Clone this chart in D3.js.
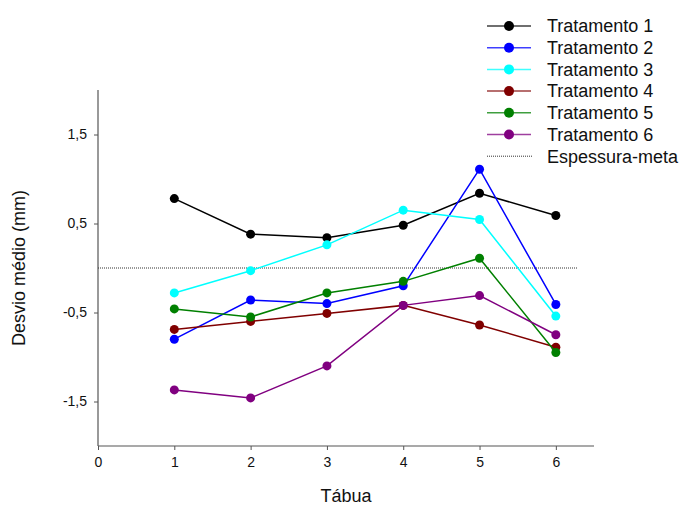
<!DOCTYPE html>
<html>
<head>
<meta charset="utf-8">
<script src="https://cdn.jsdelivr.net/npm/d3@7"></script>
<style>
  html, body { margin: 0; padding: 0; background: #fff; }
  svg { display: block; font-family: "Liberation Sans", Arial, sans-serif; }
</style>
</head>
<body>
<svg id="chart" width="682" height="507"></svg>
<script>
// Tábuas (boards) along the x axis
const tabuas = [1, 2, 3, 4, 5, 6];

// Mean deviation (mm) per treatment
const tratamento1 = [0.78, 0.38, 0.34, 0.48, 0.84, 0.59];
const tratamento2 = [-0.80, -0.36, -0.40, -0.20, 1.11, -0.41];
const tratamento3 = [-0.28, -0.03, 0.26, 0.65, 0.545, -0.54];
const tratamento4 = [-0.69, -0.60, -0.51, -0.42, -0.64, -0.89];
const tratamento5 = [-0.46, -0.55, -0.28, -0.15, 0.11, -0.95];
const tratamento6 = [-1.37, -1.46, -1.10, -0.42, -0.31, -0.75];

const seriesNames = ["Tratamento 1", "Tratamento 2", "Tratamento 3",
                     "Tratamento 4", "Tratamento 5", "Tratamento 6"];
const seriesColors = ["#000000", "#0000ff", "#00ffff", "#800000", "#008000", "#800080"];
const targetName = "Espessura-meta";
const targetValue = 0;

const xTicks = [0, 1, 2, 3, 4, 5, 6];
const yTicks = [1.5, 0.5, -0.5, -1.5];
const yTickLabels = ["1,5", "0,5", "-0,5", "-1,5"];

const seriesValues = [tratamento1, tratamento2, tratamento3, tratamento4, tratamento5, tratamento6];
const series = seriesNames.map((name, i) => ({
  name,
  color: seriesColors[i],
  points: tabuas.map((t, j) => ({ x: t, y: seriesValues[i][j] }))
}));

const svg = d3.select("#chart");
const plot = { left: 98, right: 594, top: 90, bottom: 446 };

const x = d3.scaleLinear().domain([0, 6.5]).range([plot.left, plot.right]);
const y = d3.scaleLinear().domain([-2, 2]).range([plot.bottom, plot.top]);

const axisColor = "#555";
const textColor = "#111";

// X axis
const xAxis = svg.append("g")
  .attr("transform", `translate(0,${plot.bottom})`)
  .call(d3.axisBottom(x).tickValues(xTicks).tickSize(4).tickPadding(7).tickFormat(d3.format("d")));
xAxis.select(".domain").attr("d", `M${plot.left},0H${plot.right}`).attr("stroke", axisColor).attr("stroke-width", 1.2);
xAxis.selectAll(".tick line").attr("stroke", axisColor);
xAxis.selectAll(".tick text").attr("font-size", 14).attr("fill", textColor)
  .attr("font-family", "Liberation Sans, Arial, sans-serif");

// Y axis
const yAxis = svg.append("g")
  .attr("transform", `translate(${plot.left},0)`)
  .call(d3.axisLeft(y).tickValues(yTicks).tickSize(4).tickPadding(7)
    .tickFormat((d, i) => yTickLabels[i]));
yAxis.select(".domain").attr("d", `M0,${plot.top}V${plot.bottom}`).attr("stroke", axisColor).attr("stroke-width", 1.2);
yAxis.selectAll(".tick line").attr("stroke", axisColor);
yAxis.selectAll(".tick text").attr("font-size", 14).attr("fill", textColor)
  .attr("font-family", "Liberation Sans, Arial, sans-serif");

// Axis titles
svg.append("text")
  .attr("x", 346).attr("y", 502)
  .attr("text-anchor", "middle")
  .attr("font-size", 18).attr("fill", textColor)
  .text("Tábua");

svg.append("text")
  .attr("transform", `translate(25,${y(0)}) rotate(-90)`)
  .attr("text-anchor", "middle")
  .attr("font-size", 18).attr("fill", textColor)
  .text("Desvio médio (mm)");

// Target thickness reference line
svg.append("line")
  .attr("x1", plot.left).attr("x2", 578)
  .attr("y1", y(targetValue)).attr("y2", y(targetValue))
  .attr("stroke", "#333").attr("stroke-width", 1)
  .attr("stroke-dasharray", "1,1");

// Series lines and markers
const line = d3.line().x(d => x(d.x)).y(d => y(d.y));

const g = svg.append("g");
series.forEach(s => {
  g.append("path")
    .datum(s.points)
    .attr("d", line)
    .attr("fill", "none")
    .attr("stroke", s.color)
    .attr("stroke-width", 1.5);
  g.selectAll(null)
    .data(s.points)
    .enter().append("circle")
    .attr("cx", d => x(d.x))
    .attr("cy", d => y(d.y))
    .attr("r", 4.5)
    .attr("fill", s.color);
});

// Legend
const legend = svg.append("g");
const legendRowY = i => 26 + i * 21.7;
series.forEach((s, i) => {
  const ly = legendRowY(i);
  legend.append("line")
    .attr("x1", 487).attr("x2", 531).attr("y1", ly).attr("y2", ly)
    .attr("stroke", s.color).attr("stroke-width", 1.5).attr("opacity", 0.75);
  legend.append("circle")
    .attr("cx", 509).attr("cy", ly).attr("r", 5).attr("fill", s.color);
  legend.append("text")
    .attr("x", 547).attr("y", ly).attr("dy", "0.35em")
    .attr("font-size", 18).attr("fill", textColor)
    .text(s.name);
});
const ty = legendRowY(6);
legend.append("line")
  .attr("x1", 487).attr("x2", 533).attr("y1", ty).attr("y2", ty)
  .attr("stroke", "#333").attr("stroke-width", 1).attr("stroke-dasharray", "1,1");
legend.append("text")
  .attr("x", 547).attr("y", ty).attr("dy", "0.35em")
  .attr("font-size", 18).attr("fill", textColor)
  .text(targetName);
</script>
</body>
</html>
